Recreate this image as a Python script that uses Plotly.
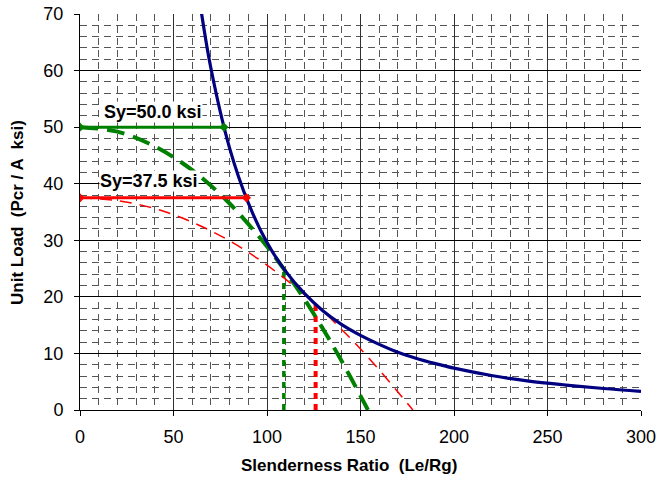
import plotly.graph_objects as go

# Euler curve
euler_x = [64, 70, 80, 90, 100, 110, 120, 130, 140, 150, 160, 170, 180, 190, 200, 220, 240, 260, 280, 300]
euler_y = [72.3, 60.4, 46.3, 36.6, 29.6, 24.5, 20.6, 17.5, 15.1, 13.2, 11.6, 10.2, 9.1, 8.2, 7.4, 6.1, 5.1, 4.4, 3.8, 3.3]

# Johnson parabola, Sy = 50 ksi
j50_x = [0, 20, 40, 60, 80, 100, 109, 120, 130, 140, 150, 154]
j50_y = [50.0, 49.2, 46.6, 42.4, 36.5, 28.9, 24.9, 19.6, 14.3, 8.6, 2.5, 0.0]

# Johnson parabola, Sy = 37.5 ksi
j375_x = [0, 20, 40, 60, 80, 100, 126, 140, 150, 160, 170, 178]
j375_y = [37.5, 37.0, 35.6, 33.2, 29.9, 25.6, 18.7, 14.2, 10.8, 7.1, 3.2, 0.0]

# Yield-strength horizontals
sy50_x = [0, 77]
sy50_y = [50, 50]
sy375_x = [0, 89]
sy375_y = [37.5, 37.5]

# Tangent-point verticals
v50_x = [109, 109]
v50_y = [0, 25]
v375_x = [126, 126]
v375_y = [0, 18.7]

labels = ["Sy=50.0 ksi", "Sy=37.5 ksi"]
label_x = [12.5, 10]
label_y = [52.7, 40.4]

x_title = "Slenderness Ratio  (Le/Rg)"
y_title = "Unit Load  (Pcr / A  ksi)"

GREEN = "#008000"
RED = "#FF0000"
NAVY = "#000080"

fig = go.Figure()

fig.add_trace(go.Scatter(x=v50_x, y=v50_y, mode="lines",
                         line=dict(color=GREEN, width=3.5, dash="6px,5px")))
fig.add_trace(go.Scatter(x=v375_x, y=v375_y, mode="lines",
                         line=dict(color=RED, width=4, dash="6px,5px")))
fig.add_trace(go.Scatter(x=j375_x, y=j375_y, mode="lines",
                         line=dict(color=RED, width=1.5, dash="12px,8px", shape="spline")))
fig.add_trace(go.Scatter(x=j50_x, y=j50_y, mode="lines",
                         line=dict(color=GREEN, width=4, dash="18px,9px", shape="spline")))
fig.add_trace(go.Scatter(x=euler_x, y=euler_y, mode="lines",
                         line=dict(color=NAVY, width=3.2, shape="spline")))
fig.add_trace(go.Scatter(x=sy50_x, y=sy50_y, mode="lines+markers",
                         line=dict(color=GREEN, width=3),
                         marker=dict(symbol="diamond", size=7, color=GREEN)))
fig.add_trace(go.Scatter(x=sy375_x, y=sy375_y, mode="lines+markers",
                         line=dict(color=RED, width=3),
                         marker=dict(symbol="diamond", size=7, color=RED)))

for t, lx, ly in zip(labels, label_x, label_y):
    fig.add_annotation(x=lx, y=ly, text="<b>" + t + "</b>", showarrow=False,
                       xanchor="left", yanchor="middle", bgcolor="white", borderpad=0,
                       font=dict(family="Liberation Sans, Arial", size=18, color="black"))

fig.add_annotation(xref="paper", yref="paper", x=0.4795, y=-0.1414,
                   text="<b>" + x_title + "</b>", showarrow=False,
                   xanchor="center", yanchor="middle",
                   font=dict(family="Liberation Sans, Arial", size=17, color="black"))
fig.add_annotation(xref="paper", yref="paper", x=-0.1123, y=0.5,
                   text="<b>" + y_title + "</b>", showarrow=False, textangle=-90,
                   xanchor="center", yanchor="middle",
                   font=dict(family="Liberation Sans, Arial", size=17, color="black"))

fig.update_layout(
    width=660, height=483,
    margin=dict(l=80, r=19, t=14, b=73),
    paper_bgcolor="white", plot_bgcolor="white",
    showlegend=False,
    font=dict(family="Liberation Sans, Arial", color="black"),
)

fig.update_xaxes(
    range=[0, 300], dtick=50, tick0=0, automargin=False,
    showgrid=True, gridcolor="#303030", gridwidth=1,
    showline=True, linecolor="black", linewidth=1,
    ticks="outside", ticklen=5, tickcolor="black",
    tickfont=dict(size=18), ticklabelstandoff=5,
    zeroline=False,
    minor=dict(dtick=10, showgrid=True, gridcolor="#555555", gridwidth=1, griddash="7px,5px"),
)
fig.update_yaxes(
    range=[0, 70], dtick=10, tick0=0, automargin=False,
    showgrid=True, gridcolor="black", gridwidth=1,
    showline=True, linecolor="black", linewidth=1,
    ticks="outside", ticklen=5, tickcolor="black",
    tickfont=dict(size=18), ticklabelstandoff=7,
    zeroline=False,
    minor=dict(dtick=2, showgrid=True, gridcolor="#555555", gridwidth=1, griddash="7px,5px"),
)

fig.write_html("out.html", config={"displayModeBar": False},
               post_script="document.body.style.margin='0';document.body.style.overflow='hidden';")
